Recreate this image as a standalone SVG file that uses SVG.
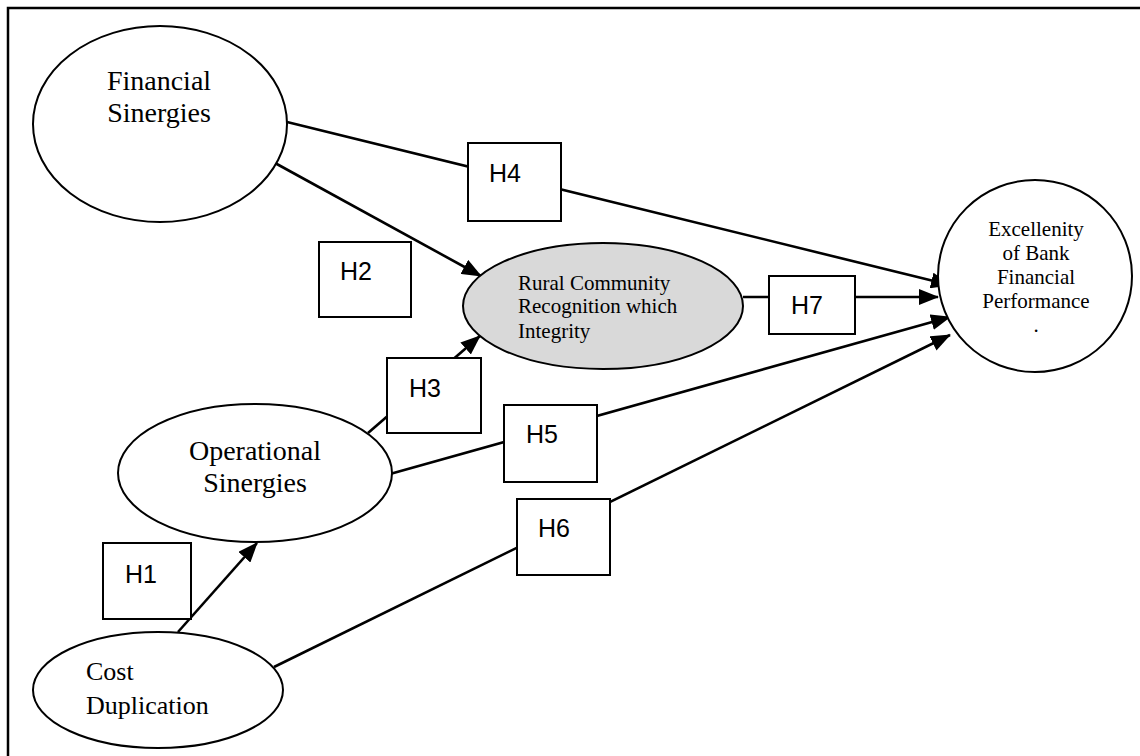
<svg xmlns="http://www.w3.org/2000/svg" width="1140" height="756" viewBox="0 0 1140 756">
<style>
.node{fill:#fff;stroke:#000;stroke-width:2}
.grey{fill:#d9d9d9}
.box{fill:#fff;stroke:#000;stroke-width:2}
.t{font-family:"Liberation Serif","Times New Roman",serif;fill:#000}
.h{font-family:"Liberation Sans",Arial,sans-serif;font-size:25px;fill:#000}
.ln{stroke:#000;stroke-width:2.6;fill:none}
</style>
<defs>
<marker id="ah" markerUnits="userSpaceOnUse" markerWidth="20" markerHeight="16" refX="19" refY="8" orient="auto">
<path d="M0,0 L20,8 L0,16 Z" fill="#000"/>
</marker>
</defs>
<rect width="1140" height="756" fill="#fff"/>
<path d="M8,756 V8 H1140" fill="none" stroke="#000" stroke-width="2.5"/>
<g id="connectors">
<line class="ln" x1="287" y1="122" x2="950" y2="285" marker-end="url(#ah)"/>
<line class="ln" x1="275" y1="163" x2="481" y2="276" marker-end="url(#ah)"/>
<line class="ln" x1="743" y1="297" x2="938" y2="297" marker-end="url(#ah)"/>
<line class="ln" x1="368" y1="433" x2="480" y2="336" marker-end="url(#ah)"/>
<line class="ln" x1="390" y1="474" x2="950" y2="317" marker-end="url(#ah)"/>
<line class="ln" x1="274" y1="667" x2="950" y2="335" marker-end="url(#ah)"/>
<line class="ln" x1="178" y1="632" x2="257" y2="543" marker-end="url(#ah)"/>
</g>
<g id="financial">
<ellipse class="node" cx="160" cy="124" rx="127" ry="98"/>
<text class="t" font-size="28" x="159" y="90" text-anchor="middle">Financial</text>
<text class="t" font-size="28" x="159" y="122" text-anchor="middle">Sinergies</text>
</g>
<g id="rural">
<ellipse class="node grey" cx="603" cy="306" rx="140" ry="63"/>
<text class="t" font-size="21" x="518" y="290">Rural Community</text>
<text class="t" font-size="21" x="518" y="313">Recognition which</text>
<text class="t" font-size="21" x="518" y="338">Integrity</text>
</g>
<g id="excellenity">
<ellipse class="node" cx="1035" cy="276" rx="97" ry="96"/>
<text class="t" font-size="21" x="1036" y="236" text-anchor="middle">Excellenity</text>
<text class="t" font-size="21" x="1036" y="260" text-anchor="middle">of Bank</text>
<text class="t" font-size="21" x="1036" y="284" text-anchor="middle">Financial</text>
<text class="t" font-size="21" x="1036" y="308" text-anchor="middle">Performance</text>
<text class="t" font-size="21" x="1036" y="332" text-anchor="middle">.</text>
</g>
<g id="operational">
<ellipse class="node" cx="255" cy="473" rx="137" ry="69"/>
<text class="t" font-size="28" x="255" y="460" text-anchor="middle">Operational</text>
<text class="t" font-size="28" x="255" y="492" text-anchor="middle">Sinergies</text>
</g>
<g id="cost">
<ellipse class="node" cx="158" cy="690" rx="125" ry="58"/>
<text class="t" font-size="26" x="86" y="680">Cost</text>
<text class="t" font-size="26" x="86" y="714">Duplication</text>
</g>
<g id="h4"><rect class="box" x="468" y="143" width="93" height="78"/><text class="h" x="489" y="182">H4</text></g>
<g id="h2"><rect class="box" x="319" y="242" width="92" height="75"/><text class="h" x="340" y="280">H2</text></g>
<g id="h7"><rect class="box" x="769" y="276" width="86" height="58"/><text class="h" x="791" y="314">H7</text></g>
<g id="h3"><rect class="box" x="387" y="358" width="94" height="75"/><text class="h" x="409" y="397">H3</text></g>
<g id="h5"><rect class="box" x="504" y="405" width="93" height="77"/><text class="h" x="526" y="443">H5</text></g>
<g id="h6"><rect class="box" x="517" y="499" width="93" height="76"/><text class="h" x="538" y="537">H6</text></g>
<g id="h1"><rect class="box" x="103" y="543" width="88" height="76"/><text class="h" x="125" y="583">H1</text></g>
</svg>
